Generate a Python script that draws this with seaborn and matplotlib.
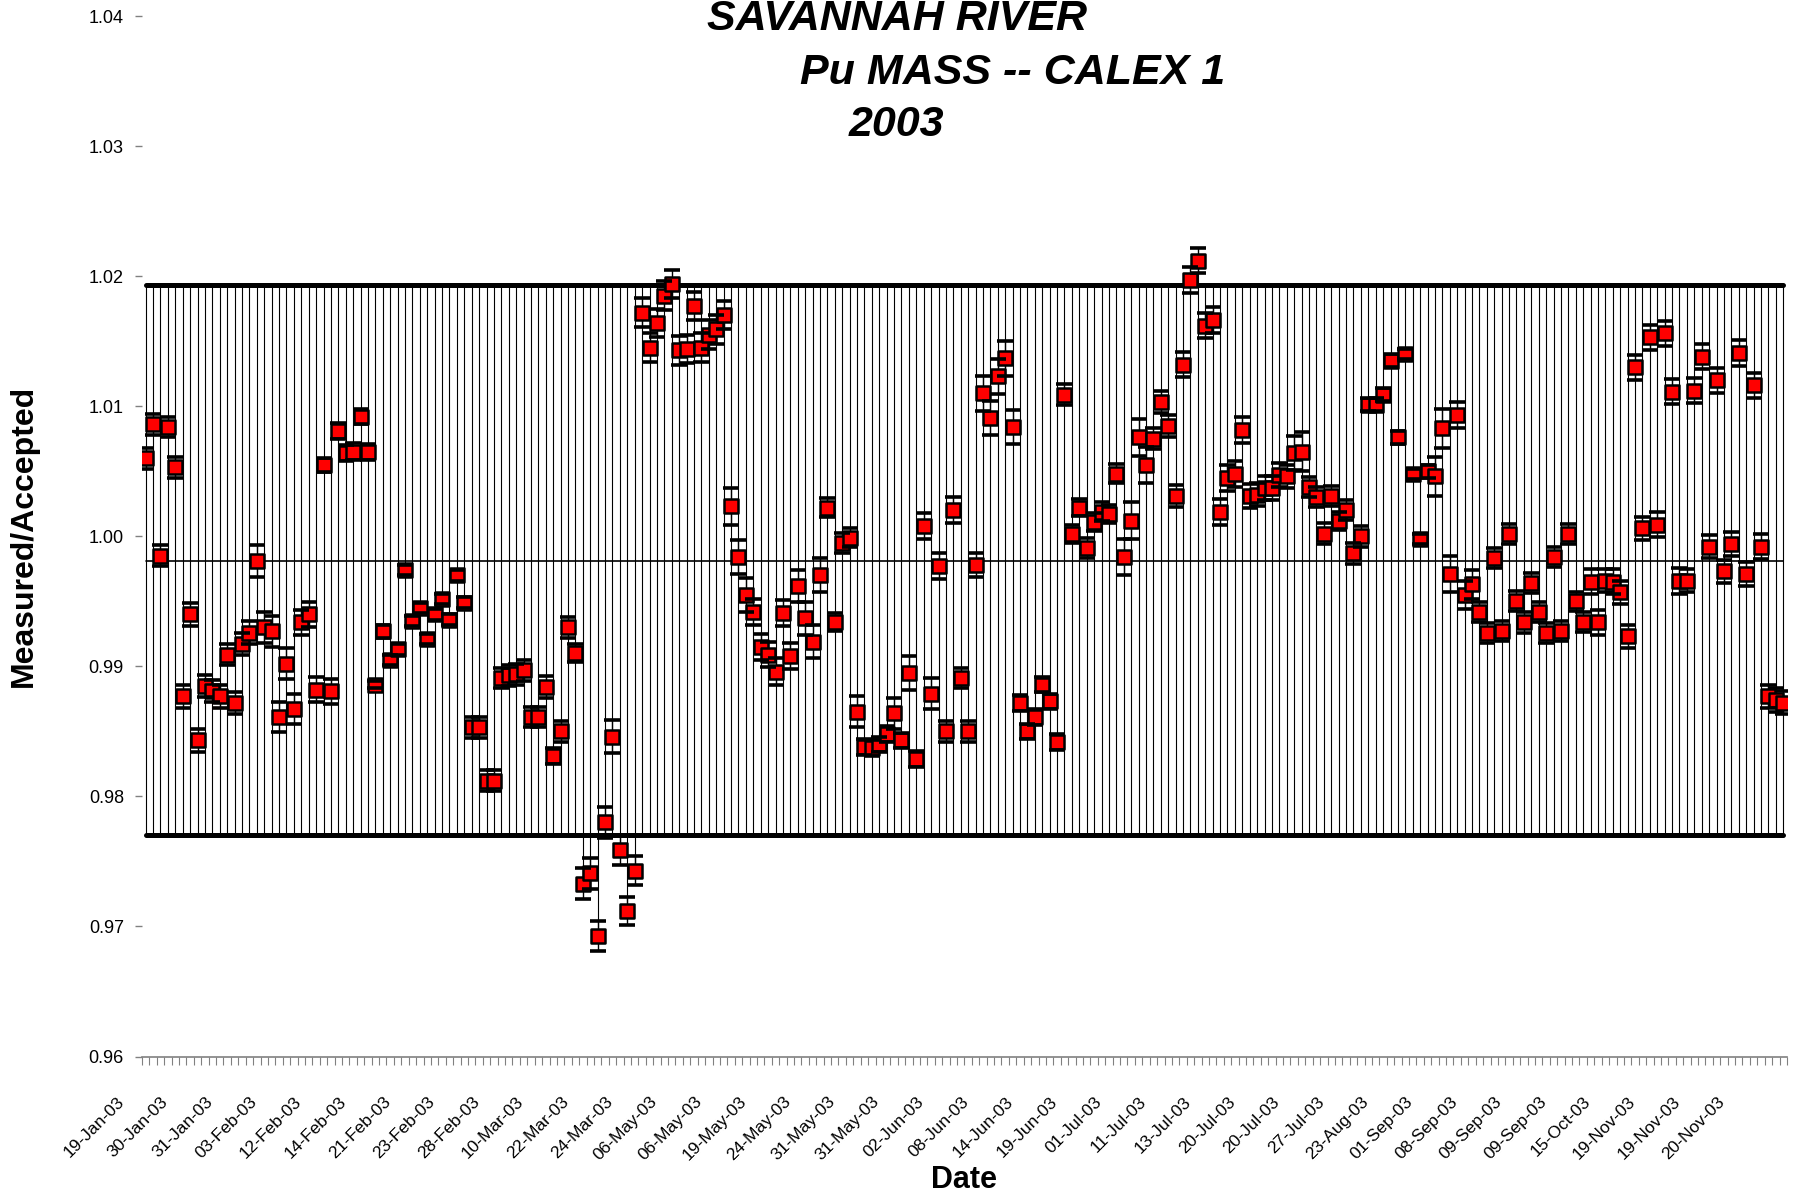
import numpy as np
import pandas as pd
import matplotlib
matplotlib.use('Agg')
import matplotlib.pyplot as plt
import matplotlib.transforms as mtransforms
import seaborn as sns

# Measured/Accepted ratio for each sample
ratio = [
    1.0060, 1.0086, 0.9985, 1.0084, 1.0053, 0.9877, 0.9940, 0.9843, 0.9885, 0.9881,
    0.9877, 0.9909, 0.9872, 0.9917, 0.9926, 0.9981, 0.9930, 0.9927, 0.9861, 0.9902,
    0.9867, 0.9934, 0.9940, 0.9882, 1.0055, 0.9881, 1.0081, 1.0064, 1.0065, 1.0092,
    1.0065, 0.9886, 0.9927, 0.9905, 0.9913, 0.9974, 0.9935, 0.9945, 0.9921, 0.9940,
    0.9952, 0.9936, 0.9970, 0.9949, 0.9853, 0.9853, 0.9812, 0.9812, 0.9891, 0.9893,
    0.9894, 0.9897, 0.9861, 0.9861, 0.9884, 0.9831, 0.9850, 0.9930, 0.9910, 0.9733,
    0.9741, 0.9693, 0.9780, 0.9846, 0.9759, 0.9712, 0.9743, 1.0172, 1.0145, 1.0164,
    1.0185, 1.0194, 1.0143, 1.0144, 1.0177, 1.0145, 1.0155, 1.0159, 1.0170, 1.0023,
    0.9984, 0.9955, 0.9942, 0.9915, 0.9909, 0.9896, 0.9941, 0.9908, 0.9962, 0.9937,
    0.9919, 0.9970, 1.0022, 0.9934, 0.9995, 0.9999, 0.9865, 0.9838, 0.9837, 0.9840,
    0.9848, 0.9864, 0.9843, 0.9895, 0.9829, 1.0008, 0.9879, 0.9977, 0.9850, 1.0020,
    0.9891, 0.9850, 0.9978, 1.0110, 1.0091, 1.0123, 1.0137, 1.0084, 0.9872, 0.9850,
    0.9861, 0.9886, 0.9873, 0.9842, 1.0109, 1.0002, 1.0022, 0.9991, 1.0011, 1.0019,
    1.0017, 1.0048, 0.9984, 1.0012, 1.0076, 1.0055, 1.0075, 1.0103, 1.0085, 1.0031,
    1.0132, 1.0197, 1.0212, 1.0162, 1.0166, 1.0019, 1.0045, 1.0048, 1.0082, 1.0031,
    1.0032, 1.0037, 1.0037, 1.0047, 1.0046, 1.0064, 1.0065, 1.0038, 1.0030, 1.0002,
    1.0031, 1.0012, 1.0020, 0.9987, 1.0000, 1.0101, 1.0101, 1.0109, 1.0135, 1.0076,
    1.0140, 1.0048, 0.9998, 1.0050, 1.0046, 1.0083, 0.9971, 1.0093, 0.9955, 0.9963,
    0.9942, 0.9926, 0.9983, 0.9927, 1.0002, 0.9950, 0.9934, 0.9964, 0.9942, 0.9926,
    0.9984, 0.9927, 1.0002, 0.9950, 0.9934, 0.9965, 0.9934, 0.9966, 0.9965, 0.9957,
    0.9923, 1.0130, 1.0006, 1.0153, 1.0009, 1.0156, 1.0111, 0.9966, 0.9966, 1.0112,
    1.0138, 0.9992, 1.0120, 0.9973, 0.9994, 1.0141, 0.9971, 1.0116, 0.9992, 0.9877,
    0.9874, 0.9872,
]

# half-width of the error bar on each point
ratio_err = [
    .0008, .0008, .0008, .0008, .0008, .0009, .00086, .00086, .00087, .00087,
    .00087, .00083, .00085, .00086, .0009, .0012, .0012, .0012, .00115, .0012,
    .00117, .00096, .00094, .00096, .00054, .00096, .0006, .00064, .00064, .00056,
    .00062, .0003, .0005, .0004, .0004, .0004, .0004, .0004, .0004, .0004,
    .0004, .0004, .0004, .0004, .0008, .0008, .0008, .0008, .0008, .0008,
    .0008, .0008, .00077, .00077, .00086, .0006, .00083, .00083, .0007, .0012,
    .0012, .00115, .0012, .0013, .00115, .0011, .0011, .0011, .0011, .0011,
    .0011, .0011, .0011, .0011, .0011, .0011, .0011, .0011, .0011, .0014,
    .0013, .0013, .001, .001, .00096, .00105, .001, .001, .00124, .00128,
    .00128, .0013, .00074, .0007, .00077, .0007, .0012, .0006, .0006, .0006,
    .0006, .0012, .0006, .00128, .0006, .001, .0012, .001, .0008, .001,
    .0008, .0008, .00094, .00135, .00133, .00133, .00135, .00133, .0006, .0006,
    .0006, .0006, .0006, .0006, .00083, .0007, .00064, .00074, .0007, .0007,
    .0007, .00074, .00137, .0014, .00145, .0014, .0008, .00085, .00083, .00087,
    .00096, .001, .00096, .00095, .001, .001, .001, .001, .001, .0009,
    .0009, .0009, .0009, .0009, .0009, .0013, .0015, .00077, .00077, .00083,
    .00077, .0007, .00077, .0008, .0008, .0005, .0005, .0005, .0005, .0005,
    .0004, .0004, .0004, .0005, .0015, .0015, .0014, .001, .0011, .0011,
    .00077, .00077, .00077, .00077, .00077, .00077, .0008, .00077, .00077, .00077,
    .00077, .00077, .00077, .00074, .00077, .00096, .00096, .0009, .00096, .0009,
    .0009, .00096, .0009, .00097, .00094, .00096, .00096, .001, .0009, .00096,
    .00095, .0009, .00097, .0009, .0009, .001, .00096, .00097, .00094, .0009,
    .0009, .0009,
]

# date labels, one every 6 samples
tick_labels = [
    '19-Jan-03', '30-Jan-03', '31-Jan-03', '03-Feb-03', '12-Feb-03', '14-Feb-03',
    '21-Feb-03', '23-Feb-03', '28-Feb-03', '10-Mar-03', '22-Mar-03', '24-Mar-03',
    '06-May-03', '06-May-03', '19-May-03', '24-May-03', '31-May-03', '31-May-03',
    '02-Jun-03', '08-Jun-03', '14-Jun-03', '19-Jun-03', '01-Jul-03', '11-Jul-03',
    '13-Jul-03', '20-Jul-03', '20-Jul-03', '27-Jul-03', '23-Aug-03', '01-Sep-03',
    '08-Sep-03', '09-Sep-03', '09-Sep-03', '15-Oct-03', '19-Nov-03', '19-Nov-03',
    '20-Nov-03',
]

upper_limit = 1.0193
lower_limit = 0.9770
center_value = 0.9981

n = len(ratio)
df = pd.DataFrame({'obs': np.arange(n), 'ratio': ratio, 'err': ratio_err})
df['upper'] = upper_limit
df['lower'] = lower_limit
df['center'] = center_value

sns.set_style('white')
plt.rcParams['font.family'] = ['Liberation Sans', 'DejaVu Sans']
plt.rcParams.update({'text.color': 'black', 'axes.labelcolor': 'black',
                     'xtick.color': 'black', 'ytick.color': 'black'})

fig = plt.figure(figsize=(17.97, 11.96), dpi=100)
ax = fig.add_axes([0.0790, 0.1166, 0.9154, 0.8700])

# high-low lines joining the limits (and any point outside them)
ax.vlines(df['obs'], np.minimum(df['ratio'], lower_limit), np.maximum(df['ratio'], upper_limit),
          color='black', linewidth=0.8, zorder=1)

sns.lineplot(data=df, x='obs', y='upper', color='black', linewidth=3.6, ax=ax, zorder=2)
sns.lineplot(data=df, x='obs', y='lower', color='black', linewidth=3.6, ax=ax, zorder=2)
sns.lineplot(data=df, x='obs', y='center', color='black', linewidth=1.2, ax=ax, zorder=2)

# error bar stems sit under the markers, the caps on top of them
ax.errorbar(df['obs'], df['ratio'], yerr=df['err'], fmt='none', ecolor='black',
            elinewidth=1, capsize=0, zorder=2.5)
sns.scatterplot(data=df, x='obs', y='ratio', marker='s', s=100, color='#ff0000',
                edgecolor='black', linewidth=1.8, ax=ax, zorder=3)
ax.errorbar(df['obs'], df['ratio'], yerr=df['err'], fmt='none', ecolor='black',
            elinewidth=0, capsize=5.5, capthick=2.6, zorder=4)

ax.set_xlim(-0.5, n - 0.5)
ax.set_ylim(0.96, 1.04)
ax.set_yticks(np.arange(0.96, 1.0401, 0.01))
ax.set_yticklabels([f'{v:.2f}' for v in np.arange(0.96, 1.0401, 0.01)], fontsize=13)
ax.tick_params(axis='y', length=5, width=1, color='gray', pad=8, left=True)

ax.set_xticks(np.arange(0, n, 6))
ax.set_xticklabels(tick_labels, rotation=45, ha='right', va='top', fontsize=12.5)
ax.set_xticks(np.arange(-0.5, n, 1), minor=True)
ax.tick_params(axis='x', which='major', length=0, pad=27)
ax.tick_params(axis='x', which='minor', length=6, width=0.8, color='gray', bottom=True)
shift = mtransforms.ScaledTranslation(-0.19, 0, fig.dpi_scale_trans)
for lab in ax.get_xticklabels():
    lab.set_transform(lab.get_transform() + shift)

for side in ['top', 'right', 'left']:
    ax.spines[side].set_visible(False)
ax.spines['bottom'].set_color('gray')
ax.spines['bottom'].set_linewidth(1.2)

ax.set_xlabel('Date', fontsize=22, fontweight='bold')
ax.xaxis.set_label_coords(0.5, -0.104)
ax.set_ylabel('Measured/Accepted', fontsize=23, fontweight='bold')
ax.yaxis.set_label_coords(-0.0626, 0.5)

title_kw = dict(fontsize=31, fontweight='bold', fontstyle='italic', ha='center', va='center')
fig.text(897 / 1797, 1 - 19 / 1196, 'SAVANNAH RIVER', **title_kw)
fig.text(1013 / 1797, 1 - 73 / 1196, 'Pu MASS -- CALEX 1', **title_kw)
fig.text(896 / 1797, 1 - 125 / 1196, '2003', **title_kw)

fig.savefig('out.png', dpi=100)
